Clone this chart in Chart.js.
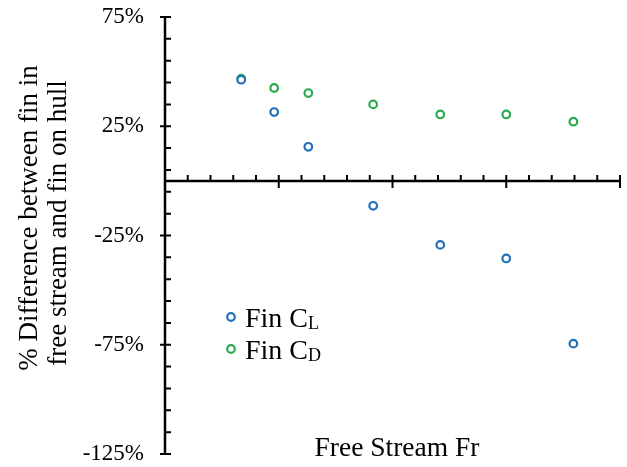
<!DOCTYPE html>
<html>
<head>
<meta charset="utf-8">
<script src="https://cdn.jsdelivr.net/npm/chart.js@4.4.1/dist/chart.umd.min.js"></script>
<style>
  html, body { margin: 0; padding: 0; background: #fff; }
</style>
</head>
<body>
<canvas id="finChart" width="627" height="467"></canvas>
<script>
// Fin on hull vs fin in free stream - scatter of % difference

const froude = [0.067, 0.096, 0.126, 0.183, 0.242, 0.300, 0.359];
const finCL = [46.3, 31.5, 15.6, -11.4, -29.3, -35.5, -74.5];
const finCD = [46.8, 42.5, 40.2, 35.0, 30.4, 30.4, 27.1];

const yTickValues = [75, 25, -25, -75, -125];
const yMin = -125, yMax = 75, yMinorStep = 10;
const xMin = 0, xMax = 0.4, xMinorStep = 0.02;

const yTitleLines = ["% Difference between fin in", "free stream and fin on hull"];
const xTitle = "Free Stream Fr";
const legendItems = [
  { main: "Fin C", sub: "L" },
  { main: "Fin C", sub: "D" },
];

const serif = '"Liberation Serif", "Times New Roman", serif';
const blue = "#2171bb";
const green = "#2cab4e";

function toPoints(xs, ys) {
  return xs.map((x, i) => ({ x: x, y: ys[i] }));
}

// axes crossing at zero, Excel style ticks (major cross, minor inside)
const crossAxes = {
  id: "crossAxes",
  beforeDatasetsDraw(chart) {
    const ctx = chart.ctx;
    const xs = chart.scales.x;
    const ys = chart.scales.y;
    const x0 = xs.getPixelForValue(xMin);
    const y0 = ys.getPixelForValue(0);

    ctx.save();
    ctx.strokeStyle = "#000";
    ctx.lineWidth = 2.5;
    ctx.beginPath();
    ctx.moveTo(x0, ys.getPixelForValue(yMax));
    ctx.lineTo(x0, ys.getPixelForValue(yMin));
    ctx.moveTo(x0, y0);
    ctx.lineTo(xs.getPixelForValue(xMax), y0);
    ctx.stroke();

    ctx.lineWidth = 2;
    ctx.beginPath();
    const nY = Math.round((yMax - yMin) / yMinorStep);
    for (let i = 0; i <= nY; i++) {
      const v = yMax - i * yMinorStep;
      const py = ys.getPixelForValue(v);
      const major = yTickValues.includes(v);
      ctx.moveTo(major ? x0 - 5 : x0, py);
      ctx.lineTo(x0 + 6, py);
    }
    const nX = Math.round((xMax - xMin) / xMinorStep);
    for (let i = 1; i <= nX; i++) {
      const px = xs.getPixelForValue(xMin + i * xMinorStep);
      const major = i % 5 === 0;
      ctx.moveTo(px, y0 - 6);
      ctx.lineTo(px, major ? y0 + 7 : y0);
    }
    ctx.stroke();
    ctx.restore();
  },
  afterDraw(chart) {
    const ctx = chart.ctx;
    ctx.save();
    ctx.fillStyle = "#000";

    // y axis title, two rotated lines
    ctx.font = "27px " + serif;
    ctx.textAlign = "center";
    ctx.textBaseline = "alphabetic";
    const titlePos = [
      { x: 37, y: 218 },
      { x: 66, y: 223 },
    ];
    yTitleLines.forEach((line, i) => {
      ctx.save();
      ctx.translate(titlePos[i].x, titlePos[i].y);
      ctx.rotate(-Math.PI / 2);
      ctx.fillText(line, 0, 0);
      ctx.restore();
    });

    // x axis title
    ctx.font = "27.5px " + serif;
    ctx.fillText(xTitle, 397, 456);

    // legend with subscripts
    ctx.textAlign = "left";
    legendItems.forEach((item, i) => {
      const ds = chart.data.datasets[i];
      const cy = 317 + i * 32;
      ctx.beginPath();
      ctx.arc(231, cy, 3.8, 0, Math.PI * 2);
      ctx.fillStyle = "#fff";
      ctx.fill();
      ctx.lineWidth = 2.2;
      ctx.strokeStyle = ds.borderColor;
      ctx.stroke();

      ctx.fillStyle = "#000";
      ctx.font = "28px " + serif;
      const base = cy + 10;
      ctx.fillText(item.main, 245, base);
      const w = ctx.measureText(item.main).width;
      ctx.font = "18px " + serif;
      ctx.fillText(item.sub, 245 + w, base + 1.5);
    });
    ctx.restore();
  },
};

const ctx = document.getElementById("finChart").getContext("2d");

new Chart(ctx, {
  type: "scatter",
  data: {
    datasets: [
      {
        label: "Fin CL",
        data: toPoints(froude, finCL),
        borderColor: blue,
        backgroundColor: "#fff",
        pointRadius: 3.8,
        pointBorderWidth: 2.2,
      },
      {
        label: "Fin CD",
        data: toPoints(froude, finCD),
        borderColor: green,
        backgroundColor: "#fff",
        pointRadius: 3.8,
        pointBorderWidth: 2.2,
      },
    ],
  },
  options: {
    responsive: false,
    animation: false,
    layout: { padding: { top: 17, right: 7, bottom: 13, left: 0 } },
    plugins: {
      legend: { display: false },
      tooltip: { enabled: false },
    },
    scales: {
      x: {
        type: "linear",
        min: xMin,
        max: xMax,
        position: { y: 0 },
        grid: { display: false, drawTicks: false },
        border: { display: false },
        ticks: { display: false },
      },
      y: {
        type: "linear",
        min: yMin,
        max: yMax,
        // tick marks are drawn by the plugin, tickLength only spaces the labels
        grid: { display: false, drawTicks: true, tickLength: 21 },
        border: { display: false },
        afterFit: function (scale) {
          scale.width = 165;
        },
        ticks: {
          stepSize: 50,
          padding: 0,
          color: "#000",
          font: { family: serif, size: 23, lineHeight: 1 },
          callback: (v) => v + "%",
        },
      },
    },
  },
  plugins: [crossAxes],
});
</script>
</body>
</html>
